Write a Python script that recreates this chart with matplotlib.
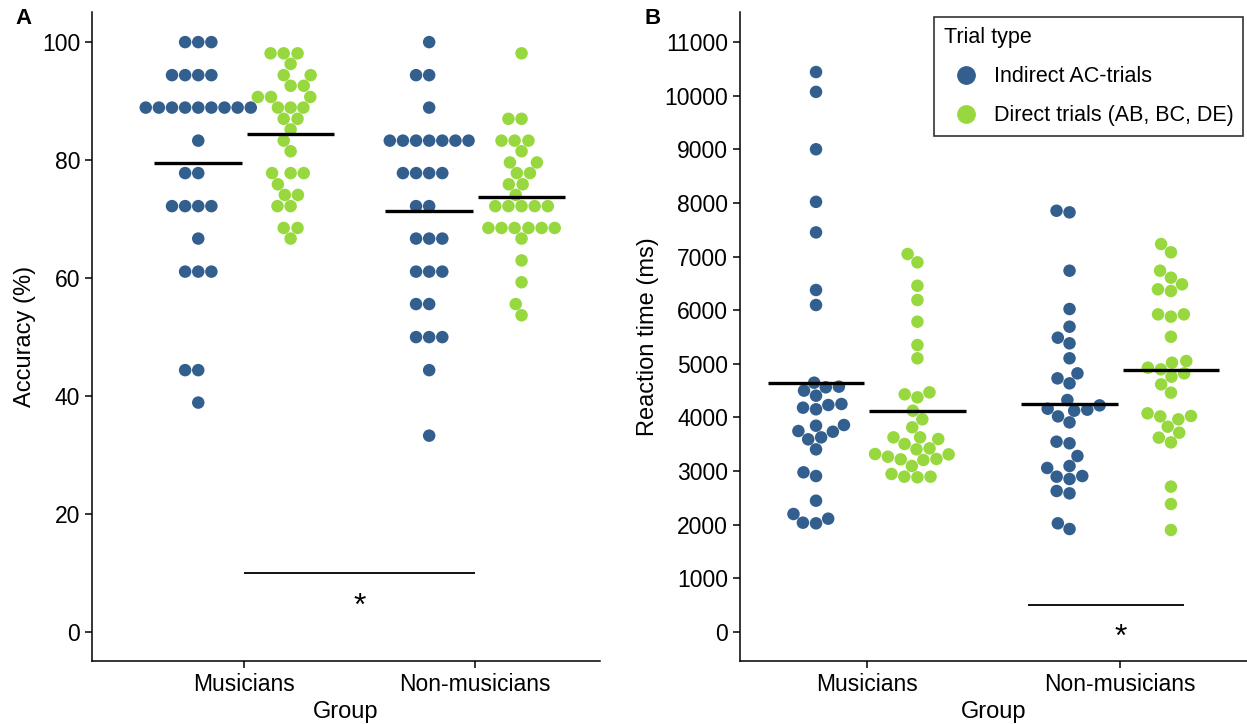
import numpy as np
import pandas as pd
import seaborn as sns
from matplotlib import pyplot as plt
from matplotlib.lines import Line2D

groups = ["Musicians", "Non-musicians"]
trial_types = ["Indirect AC-trials", "Direct trials (AB, BC, DE)"]
colors = ["#335F8E", "#97D83F"]

# accuracy (%)
acc_mus_indirect = [100, 100, 100, 94.4, 94.4, 94.4, 94.4,
                    88.9, 88.9, 88.9, 88.9, 88.9, 88.9, 88.9, 88.9, 88.9,
                    83.3, 77.8, 77.8, 72.2, 72.2, 72.2, 72.2, 66.7,
                    61.1, 61.1, 61.1, 44.4, 44.4, 38.9]
acc_mus_direct = [98.1, 98.1, 98.1, 96.3, 94.4, 94.4, 92.6, 92.6,
                  90.7, 90.7, 90.7, 88.9, 88.9, 88.9, 87.0, 87.0, 85.2,
                  83.3, 81.5, 77.8, 77.8, 77.8, 75.9, 74.1, 74.1,
                  72.2, 72.2, 68.5, 68.5, 66.7]
acc_non_indirect = [100, 94.4, 94.4, 88.9,
                    83.3, 83.3, 83.3, 83.3, 83.3, 83.3, 83.3,
                    77.8, 77.8, 77.8, 77.8, 72.2, 72.2,
                    66.7, 66.7, 66.7, 61.1, 61.1, 61.1, 55.6, 55.6,
                    50.0, 50.0, 50.0, 44.4, 33.3]
acc_non_direct = [98.1, 87.0, 87.0, 83.3, 83.3, 83.3, 81.5, 79.6, 79.6,
                  77.8, 77.8, 75.9, 75.9, 74.1,
                  72.2, 72.2, 72.2, 72.2, 72.2,
                  68.5, 68.5, 68.5, 68.5, 68.5, 68.5,
                  66.7, 63.0, 59.3, 55.6, 53.7]

# reaction time (ms)
rt_mus_indirect = [10440, 10070, 9000, 8020, 7450, 6376, 6096,
                   4648, 4574, 4500, 4562, 4406, 4232, 4152, 4182, 4251,
                   3859, 3846, 3734, 3747, 3629, 3592, 3405, 2908, 2977,
                   2448, 2200, 2113, 2026, 2038]
rt_mus_direct = [7047, 6892, 6456, 6189, 5785, 5350, 5103,
                 4468, 4375, 4431, 4126, 3965, 3816, 3629, 3598, 3629,
                 3505, 3405, 3424, 3312, 3219, 3207, 3226, 3268, 3318,
                 3095, 2896, 2884, 2896, 2946]
rt_non_indirect = [7824, 7854, 6736, 6022, 5692, 5487, 5382, 5103,
                   4822, 4729, 4636, 4325, 4225, 4145, 4126, 4163, 4020,
                   3908, 3548, 3518, 3281, 3058, 3095, 2896, 2852, 2908,
                   2585, 2629, 1920, 2026]
rt_non_direct = [7233, 7079, 6736, 6606, 6482, 6357, 6389,
                 5922, 5879, 5922, 5505, 5052, 5021, 4897, 4928,
                 4822, 4760, 4617, 4462, 4027, 4020, 3965, 4077,
                 3828, 3716, 3623, 3535, 2710, 2386, 1902]


def make_frame(mi, md, ni, nd):
    rows = []
    for g, t, vals in [(groups[0], trial_types[0], mi), (groups[0], trial_types[1], md),
                       (groups[1], trial_types[0], ni), (groups[1], trial_types[1], nd)]:
        for v in vals:
            rows.append((g, t, v))
    return pd.DataFrame(rows, columns=["Group", "Trial type", "value"])


acc = make_frame(acc_mus_indirect, acc_mus_direct, acc_non_indirect, acc_non_direct)
rt = make_frame(rt_mus_indirect, rt_mus_direct, rt_non_indirect, rt_non_direct)

plt.rcParams['font.family'] = ['Liberation Sans', 'DejaVu Sans']

fig = plt.figure(figsize=(12.47, 7.24), dpi=100)
axA = fig.add_axes([0.0738, 0.087, 0.4074, 0.8964])
axB = fig.add_axes([0.5934, 0.087, 0.4066, 0.8964])

for ax, df in [(axA, acc), (axB, rt)]:
    sns.swarmplot(data=df, x="Group", y="value", hue="Trial type",
                  order=groups, hue_order=trial_types, palette=colors,
                  dodge=True, size=9.0, linewidth=0, legend=False, ax=ax)
    means = df.groupby(["Group", "Trial type"])["value"].mean()
    for i, g in enumerate(groups):
        for j, t in enumerate(trial_types):
            c = i - 0.2 + 0.4 * j
            ax.hlines(means[(g, t)], c - 0.19, c + 0.19, color="black", lw=2.4, zorder=5)
    for s in ["top", "right"]:
        ax.spines[s].set_visible(False)
    for s in ["left", "bottom"]:
        ax.spines[s].set_linewidth(1.1)
    ax.tick_params(labelsize=16.5, length=5, width=1.1, colors="black")
    ax.set_xlabel("Group", fontsize=17, labelpad=4)
    ax.set_xticks([0, 1])
    ax.set_xticklabels(groups)

# panel A
axA.set_xlim(-0.66, 1.54)
axA.set_ylim(-4.9, 105.1)
axA.set_yticks([0, 20, 40, 60, 80, 100])
axA.set_ylabel("Accuracy (%)", fontsize=17)
axA.hlines(10, 0, 1, color="black", lw=1.3)
axA.text(0.5, 4.2, "*", fontsize=23, ha="center", va="center")

# panel B
axB.set_xlim(-0.5, 1.5)
axB.set_ylim(-541, 11559)
axB.set_yticks(np.arange(0, 11001, 1000))
axB.set_ylabel("Reaction time (ms)", fontsize=17)
axB.hlines(500, 0.635, 1.25, color="black", lw=1.3)
axB.text(1.0, -110, "*", fontsize=23, ha="center", va="center")

handles = [Line2D([], [], marker="o", ls="", color=c, markersize=12.5) for c in colors]
leg = axB.legend(handles, trial_types, title="Trial type", loc="upper right",
                 bbox_to_anchor=(0.992, 0.992), borderaxespad=0, fontsize=15.5,
                 title_fontsize=15.5, frameon=True, fancybox=False, alignment="left",
                 handletextpad=0.3, borderpad=0.45, labelspacing=0.85)
leg.get_frame().set_edgecolor("black")
leg.get_frame().set_linewidth(1.2)

fig.text(0.012, 0.975, "A", fontsize=16, fontweight="bold", va="center")
fig.text(0.517, 0.975, "B", fontsize=16, fontweight="bold", va="center")

plt.savefig("out.png", dpi=100)
plt.close()
